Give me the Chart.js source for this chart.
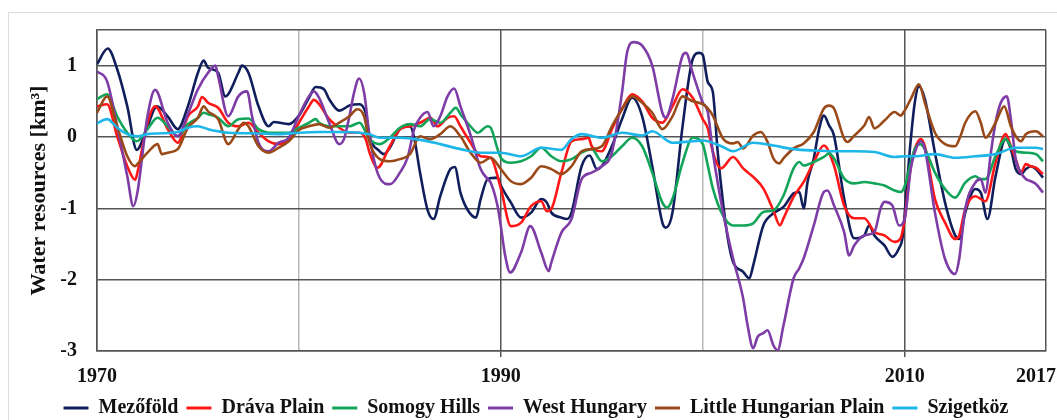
<!DOCTYPE html>
<html>
<head>
<meta charset="utf-8">
<script src="https://cdn.jsdelivr.net/npm/chart.js@4.4.1/dist/chart.umd.min.js"></script>
<style>
  html, body { margin: 0; padding: 0; background: #fff; }
  #wrap { position: relative; width: 1057px; height: 420px; overflow: hidden; }
  #frame { position: absolute; left: 8px; top: 12px; width: 1100px; height: 500px; border: 1px solid #dcdcdc; }
  #chart { position: absolute; left: 0; top: 0; }
</style>
</head>
<body>
<div id="wrap">
  <div id="frame"></div>
  <canvas id="chart" width="1057" height="420"></canvas>
</div>
<script>
// ── Data ─────────────────────────────────────────────────────────
const seriesNames = ['Mezőföld', 'Dráva Plain', 'Somogy Hills', 'West Hungary', 'Little Hungarian Plain', 'Szigetköz'];
const seriesColors = ['#101f5c', '#ff1616', '#12a55a', '#7d3ca6', '#9a4a18', '#1db6e8'];

const xTicks = [1970, 1980, 1990, 2000, 2010, 2017];
const xTickLabels = ['1970', '', '1990', '', '2010', '2017'];
const yTicks = [-3, -2, -1, 0, 1, 1.5];
const yTickLabels = ['-3', '-2', '-1', '0', '1', ''];

const mezofoldYears = [1970.0, 1970.53, 1971.0, 1971.5, 1971.97, 1972.5, 1972.96, 1973.5, 1974.0, 1974.5, 1975.0, 1975.28, 1975.5, 1976.0, 1976.35, 1976.5, 1977.0, 1977.18, 1977.5, 1978.0, 1978.5, 1978.75, 1979.5, 1980.0, 1980.5, 1980.83, 1981.24, 1981.5, 1982.0, 1982.5, 1983.0, 1983.3, 1983.5, 1984.0, 1984.22, 1984.5, 1985.0, 1985.5, 1985.7, 1986.0, 1986.37, 1986.67, 1987.0, 1987.5, 1987.72, 1988.0, 1988.35, 1988.77, 1989.0, 1989.35, 1989.84, 1990.0, 1990.5, 1991.0, 1991.5, 1992.0, 1992.28, 1992.5, 1993.0, 1993.28, 1993.5, 1994.0, 1994.4, 1994.76, 1995.0, 1995.5, 1996.0, 1996.5, 1997.0, 1997.5, 1998.0, 1998.17, 1998.5, 1999.0, 1999.5, 1999.83, 2000.0, 2000.25, 2000.5, 2000.74, 2001.0, 2001.24, 2001.5, 2002.0, 2002.31, 2002.5, 2003.0, 2003.5, 2004.0, 2004.5, 2004.78, 2005.0, 2005.19, 2005.5, 2005.77, 2006.0, 2006.26, 2006.5, 2007.0, 2007.5, 2008.0, 2008.24, 2008.5, 2009.0, 2009.39, 2009.72, 2009.9, 2010.05, 2010.25, 2010.5, 2010.71, 2011.0, 2011.5, 2012.0, 2012.5, 2012.7, 2013.0, 2013.5, 2013.77, 2014.1, 2014.5, 2015.0, 2015.26, 2015.5, 2015.76, 2016.0, 2016.25, 2016.5, 2016.85];
const mezofoldValues = [1.02, 1.24, 0.95, 0.43, -0.18, 0.15, 0.43, 0.29, 0.11, 0.43, 0.9, 1.07, 0.97, 0.9, 0.57, 0.6, 0.9, 1.0, 0.9, 0.43, 0.15, 0.21, 0.18, 0.3, 0.55, 0.7, 0.67, 0.53, 0.37, 0.44, 0.46, 0.34, 0.01, -0.2, -0.24, -0.15, 0.11, 0.15, 0.0, -0.5, -1.02, -1.15, -0.83, -0.45, -0.42, -0.78, -1.02, -1.13, -0.87, -0.59, -0.57, -0.68, -0.92, -1.13, -1.06, -0.87, -0.92, -1.06, -1.13, -1.15, -1.06, -0.41, -0.26, -0.45, -0.41, -0.13, 0.25, 0.55, 0.29, -0.41, -1.2, -1.27, -1.06, 0.15, 1.09, 1.18, 1.15, 0.77, 0.63, -0.21, -0.91, -1.42, -1.75, -1.89, -1.98, -1.8, -1.24, -1.07, -0.98, -0.79, -0.77, -1.0, -0.63, -0.3, 0.12, 0.3, 0.16, 0.02, -0.86, -1.42, -1.38, -1.24, -1.38, -1.52, -1.68, -1.56, -1.4, -0.9, -0.2, 0.48, 0.71, 0.53, -0.22, -0.92, -1.38, -1.43, -1.06, -0.73, -0.78, -1.15, -0.55, -0.03, -0.17, -0.45, -0.52, -0.45, -0.41, -0.45, -0.57];

const dravaYears = [1970.0, 1970.5, 1971.0, 1971.5, 1971.89, 1972.0, 1972.5, 1972.88, 1973.5, 1974.0, 1974.5, 1975.0, 1975.2, 1975.5, 1976.0, 1976.5, 1977.0, 1977.5, 1978.0, 1978.5, 1979.0, 1979.5, 1980.0, 1980.5, 1980.74, 1981.0, 1981.5, 1982.0, 1982.5, 1983.0, 1983.31, 1983.5, 1983.89, 1984.5, 1985.0, 1985.5, 1986.0, 1986.52, 1986.86, 1987.36, 1987.69, 1988.0, 1988.5, 1989.0, 1989.5, 1990.0, 1990.5, 1991.0, 1991.5, 1992.0, 1992.28, 1992.5, 1993.0, 1993.5, 1994.0, 1994.35, 1994.5, 1995.0, 1995.5, 1996.0, 1996.5, 1997.0, 1997.5, 1998.0, 1998.5, 1999.0, 1999.5, 2000.0, 2000.25, 2000.5, 2000.9, 2001.5, 2002.0, 2002.5, 2003.0, 2003.5, 2003.82, 2004.0, 2004.5, 2005.0, 2005.5, 2006.0, 2006.5, 2007.0, 2007.5, 2008.0, 2008.5, 2009.0, 2009.5, 2009.8, 2010.0, 2010.3, 2010.5, 2010.79, 2011.0, 2011.5, 2012.0, 2012.5, 2012.7, 2013.0, 2013.5, 2014.0, 2014.5, 2015.0, 2015.26, 2015.5, 2015.76, 2016.0, 2016.25, 2016.5, 2016.85];
const dravaValues = [0.43, 0.46, 0.01, -0.41, -0.6, -0.5, 0.2, 0.43, 0.11, -0.08, 0.29, 0.43, 0.56, 0.48, 0.41, 0.2, 0.15, 0.2, 0.06, -0.06, -0.1, -0.03, 0.2, 0.43, 0.52, 0.46, 0.25, 0.13, 0.06, 0.06, -0.03, -0.22, -0.43, -0.13, 0.11, 0.15, 0.2, 0.27, 0.15, 0.27, 0.29, 0.15, -0.08, -0.27, -0.29, -0.72, -1.25, -1.2, -0.97, -0.9, -1.04, -1.01, -0.5, -0.06, -0.03, -0.01, -0.13, -0.2, 0.11, 0.39, 0.6, 0.5, 0.27, 0.2, 0.43, 0.67, 0.55, 0.25, 0.12, -0.21, -0.44, -0.28, -0.44, -0.56, -0.72, -1.03, -1.24, -1.14, -0.84, -0.63, -0.35, -0.12, -0.4, -0.96, -1.14, -1.14, -1.33, -1.38, -1.47, -1.42, -1.15, -0.41, -0.17, -0.03, -0.13, -0.87, -1.2, -1.43, -1.38, -1.01, -0.83, -0.9, -0.36, 0.04, -0.13, -0.31, -0.5, -0.38, -0.41, -0.43, -0.52];

const somogyYears = [1970.0, 1970.5, 1971.0, 1971.5, 1971.97, 1972.5, 1973.0, 1973.5, 1974.0, 1974.5, 1975.0, 1975.28, 1975.5, 1976.0, 1976.5, 1977.0, 1977.5, 1978.0, 1978.5, 1979.0, 1979.5, 1980.0, 1980.5, 1980.83, 1981.0, 1981.5, 1982.0, 1982.5, 1983.0, 1983.5, 1984.0, 1984.5, 1985.0, 1985.5, 1986.0, 1986.5, 1987.0, 1987.5, 1987.77, 1988.0, 1988.5, 1988.85, 1989.35, 1989.5, 1989.84, 1990.0, 1990.5, 1991.0, 1991.5, 1992.0, 1992.5, 1993.0, 1993.5, 1994.0, 1994.5, 1995.0, 1995.5, 1996.0, 1996.5, 1997.0, 1997.5, 1998.0, 1998.24, 1998.5, 1999.0, 1999.5, 2000.0, 2000.25, 2000.5, 2001.0, 2001.5, 2002.0, 2002.5, 2003.0, 2003.5, 2004.0, 2004.5, 2004.78, 2005.0, 2005.5, 2006.0, 2006.26, 2006.5, 2007.0, 2007.5, 2008.0, 2008.5, 2009.0, 2009.5, 2009.8, 2010.0, 2010.3, 2010.5, 2010.76, 2011.0, 2011.5, 2012.0, 2012.5, 2013.0, 2013.5, 2013.77, 2014.0, 2014.5, 2015.0, 2015.26, 2015.5, 2016.0, 2016.5, 2016.85];
const somogyValues = [0.53, 0.6, 0.29, 0.06, -0.06, 0.11, 0.27, 0.15, 0.01, 0.18, 0.27, 0.34, 0.32, 0.27, 0.15, 0.25, 0.26, 0.11, 0.06, 0.06, 0.06, 0.13, 0.2, 0.25, 0.2, 0.15, 0.15, 0.15, 0.2, -0.03, -0.1, -0.01, 0.13, 0.18, 0.15, 0.25, 0.2, 0.34, 0.41, 0.32, 0.15, 0.06, 0.15, 0.13, -0.17, -0.29, -0.36, -0.34, -0.27, -0.15, -0.27, -0.34, -0.31, -0.22, -0.17, -0.34, -0.27, -0.13, -0.01, -0.13, -0.5, -0.92, -0.99, -0.87, -0.36, -0.01, -0.1, -0.4, -0.72, -1.1, -1.24, -1.24, -1.21, -1.05, -1.03, -0.82, -0.44, -0.35, -0.4, -0.35, -0.28, -0.23, -0.3, -0.58, -0.65, -0.63, -0.65, -0.68, -0.75, -0.77, -0.69, -0.36, -0.17, -0.1, -0.17, -0.5, -0.73, -0.85, -0.64, -0.55, -0.59, -0.59, -0.27, -0.03, -0.13, -0.2, -0.22, -0.24, -0.34];

const westYears = [1970.0, 1970.5, 1971.0, 1971.5, 1971.8, 1972.0, 1972.5, 1972.88, 1973.5, 1974.0, 1974.5, 1975.0, 1975.5, 1975.86, 1976.0, 1976.5, 1977.0, 1977.43, 1977.68, 1978.0, 1978.5, 1979.0, 1979.5, 1980.0, 1980.5, 1980.74, 1981.0, 1981.5, 1982.0, 1982.23, 1982.5, 1982.73, 1982.98, 1983.23, 1983.5, 1983.89, 1984.38, 1984.52, 1985.0, 1985.38, 1985.71, 1986.0, 1986.37, 1986.67, 1987.0, 1987.36, 1987.69, 1988.0, 1988.52, 1989.0, 1989.35, 1989.5, 1989.84, 1990.0, 1990.22, 1990.46, 1991.0, 1991.46, 1992.0, 1992.37, 1992.5, 1993.0, 1993.5, 1994.0, 1994.5, 1995.0, 1995.5, 1996.0, 1996.25, 1996.58, 1997.0, 1997.5, 1998.0, 1998.17, 1998.5, 1999.0, 1999.17, 1999.5, 2000.0, 2000.25, 2000.5, 2001.0, 2001.5, 2002.0, 2002.22, 2002.5, 2002.72, 2003.0, 2003.21, 2003.5, 2003.71, 2004.0, 2004.5, 2004.78, 2005.0, 2005.5, 2006.0, 2006.18, 2006.5, 2007.0, 2007.25, 2007.5, 2008.0, 2008.5, 2008.81, 2009.0, 2009.39, 2009.72, 2010.0, 2010.3, 2010.5, 2010.79, 2011.0, 2011.5, 2012.0, 2012.5, 2012.7, 2013.0, 2013.5, 2013.77, 2014.0, 2014.27, 2014.5, 2014.76, 2015.06, 2015.26, 2015.5, 2015.76, 2016.0, 2016.25, 2016.5, 2016.85];
const westValues = [0.92, 0.78, 0.15, -0.55, -0.97, -0.78, 0.29, 0.66, 0.2, 0.01, 0.32, 0.67, 0.9, 1.0, 0.85, 0.29, 0.57, 0.64, 0.29, -0.08, -0.2, -0.08, -0.01, 0.3, 0.57, 0.64, 0.55, 0.2, -0.1, -0.03, 0.29, 0.62, 0.82, 0.62, 0.01, -0.5, -0.66, -0.66, -0.5, -0.29, 0.11, 0.27, 0.35, 0.15, 0.29, 0.57, 0.68, 0.43, 0.01, -0.45, -0.59, -0.64, -0.97, -1.25, -1.67, -1.9, -1.62, -1.25, -1.62, -1.88, -1.76, -1.34, -1.15, -0.59, -0.5, -0.41, -0.22, 0.62, 1.18, 1.33, 1.28, 1.0, 0.34, 0.27, 0.53, 1.14, 1.18, 0.9, 0.48, 0.35, -0.21, -1.05, -1.7, -2.26, -2.64, -2.96, -2.8, -2.75, -2.71, -2.92, -2.99, -2.64, -1.98, -1.84, -1.7, -1.24, -0.77, -0.75, -0.96, -1.33, -1.66, -1.52, -1.38, -1.33, -1.0, -0.91, -0.96, -1.24, -1.15, -0.45, -0.22, -0.06, -0.17, -1.06, -1.71, -1.92, -1.71, -1.01, -0.64, -0.59, -0.78, -0.22, 0.2, 0.48, 0.57, 0.25, -0.31, -0.5, -0.59, -0.62, -0.66, -0.78];

const littleYears = [1970.0, 1970.5, 1971.0, 1971.5, 1971.89, 1972.0, 1972.5, 1973.0, 1973.21, 1973.5, 1974.0, 1974.5, 1975.0, 1975.28, 1975.5, 1976.0, 1976.5, 1977.0, 1977.26, 1977.5, 1978.0, 1978.5, 1979.0, 1979.5, 1980.0, 1980.5, 1981.0, 1981.5, 1982.0, 1982.5, 1982.89, 1983.23, 1983.5, 1984.0, 1984.5, 1985.0, 1985.5, 1986.0, 1986.5, 1987.0, 1987.5, 1988.0, 1988.5, 1989.0, 1989.5, 1990.0, 1990.5, 1991.0, 1991.5, 1992.0, 1992.5, 1993.0, 1993.5, 1994.0, 1994.5, 1995.0, 1995.5, 1996.0, 1996.5, 1997.0, 1997.5, 1998.0, 1998.5, 1999.0, 1999.5, 2000.0, 2000.25, 2000.5, 2001.0, 2001.5, 2001.73, 2002.0, 2002.5, 2002.88, 2003.21, 2003.5, 2003.79, 2004.0, 2004.5, 2005.0, 2005.5, 2006.0, 2006.26, 2006.5, 2007.0, 2007.17, 2007.5, 2008.0, 2008.24, 2008.5, 2009.0, 2009.5, 2009.8, 2010.0, 2010.3, 2010.71, 2011.0, 2011.5, 2012.0, 2012.5, 2012.76, 2013.0, 2013.5, 2013.77, 2014.0, 2014.5, 2014.93, 2015.26, 2015.5, 2015.76, 2016.0, 2016.5, 2016.85];
const littleValues = [0.34, 0.57, 0.15, -0.27, -0.41, -0.38, -0.22, -0.1, -0.24, -0.22, -0.17, 0.13, 0.27, 0.43, 0.36, 0.25, -0.1, 0.11, 0.2, 0.15, -0.13, -0.22, -0.15, -0.06, 0.1, 0.15, 0.18, 0.13, 0.2, 0.29, 0.39, 0.29, -0.08, -0.31, -0.34, -0.31, -0.24, 0.01, -0.03, 0.04, 0.15, 0.01, -0.22, -0.36, -0.29, -0.45, -0.62, -0.66, -0.57, -0.41, -0.45, -0.52, -0.41, -0.2, -0.17, -0.13, 0.15, 0.39, 0.57, 0.48, 0.34, 0.11, 0.29, 0.57, 0.5, 0.46, 0.4, 0.3, -0.02, -0.09, -0.07, -0.16, 0.02, 0.07, -0.07, -0.3, -0.37, -0.3, -0.16, -0.09, 0.07, 0.4, 0.44, 0.4, -0.02, -0.07, 0.02, 0.16, 0.28, 0.12, 0.23, 0.35, 0.3, 0.37, 0.53, 0.74, 0.48, 0.06, -0.1, -0.13, 0.01, 0.2, 0.36, 0.2, -0.01, 0.2, 0.43, 0.15, 0.01, -0.06, 0.04, 0.08, 0.01];

const szigetkozYears = [1970.0, 1970.5, 1971.0, 1971.5, 1972.0, 1972.5, 1973.0, 1974.0, 1974.5, 1975.0, 1975.5, 1976.0, 1976.5, 1978.0, 1979.0, 1980.0, 1981.0, 1982.0, 1983.0, 1983.5, 1984.0, 1985.0, 1986.0, 1987.0, 1988.0, 1989.0, 1990.0, 1991.0, 1992.0, 1993.0, 1993.5, 1994.0, 1995.0, 1996.0, 1997.0, 1997.5, 1998.5, 1999.5, 2000.0, 2001.0, 2001.5, 2002.5, 2003.5, 2004.5, 2005.5, 2006.5, 2007.5, 2008.5, 2009.5, 2010.0, 2010.5, 2011.5, 2012.5, 2013.5, 2014.5, 2015.5, 2016.5, 2016.85];
const szigetkozValues = [0.19, 0.25, 0.13, 0.04, 0.01, 0.04, 0.05, 0.07, 0.13, 0.15, 0.11, 0.08, 0.06, 0.05, 0.04, 0.06, 0.07, 0.07, 0.06, 0.04, -0.01, -0.01, -0.04, -0.1, -0.17, -0.22, -0.22, -0.27, -0.15, -0.18, -0.03, 0.04, -0.01, 0.06, 0.02, 0.08, -0.08, -0.06, -0.05, -0.14, -0.2, -0.08, -0.12, -0.17, -0.19, -0.2, -0.2, -0.21, -0.28, -0.27, -0.27, -0.24, -0.29, -0.27, -0.24, -0.15, -0.15, -0.17];

const seriesYears = [mezofoldYears, dravaYears, somogyYears, westYears, littleYears, szigetkozYears];
const seriesValues = [mezofoldValues, dravaValues, somogyValues, westValues, littleValues, szigetkozValues];

// ── Chart ───────────────────────────────────────────────────────
const FONT = '"Liberation Serif", "Times New Roman", serif';
const DARK = '#555555';
const LIGHT = '#b8b8b8';

const datasets = seriesNames.map((name, i) => ({
  label: name,
  data: seriesYears[i].map((yr, k) => ({ x: yr, y: seriesValues[i][k] })),
  borderColor: seriesColors[i],
  backgroundColor: seriesColors[i],
  borderWidth: 2.6,
  pointRadius: 0,
  cubicInterpolationMode: 'monotone',
  order: seriesNames.length - i   // later series drawn on top, like the original
}));

new Chart(document.getElementById('chart'), {
  type: 'line',
  data: { datasets },
  options: {
    responsive: false,
    animation: false,
    layout: { padding: { left: 26, right: 11, top: 30, bottom: 0 } },
    plugins: {
      tooltip: { enabled: false },
      legend: {
        position: 'bottom',
        maxHeight: 30,
        labels: {
          color: '#111',
          font: { family: FONT, size: 20, weight: 'bold' },
          boxWidth: 25,
          boxHeight: 3,
          padding: 8,
          sort: (a, b) => a.datasetIndex - b.datasetIndex,
          generateLabels: (chart) =>
            Chart.defaults.plugins.legend.labels.generateLabels(chart)
              .map(l => ({ ...l, lineWidth: 0, fillStyle: l.strokeStyle }))
        }
      }
    },
    scales: {
      x: {
        type: 'linear',
        min: 1970,
        max: 2017,
        afterBuildTicks: (s) => { s.ticks = xTicks.map(v => ({ value: v })); },
        afterFit: (s) => { s.height = 39; s.paddingLeft = 0; s.paddingRight = 0; },
        ticks: {
          autoSkip: false,
          maxRotation: 0,
          padding: 8,
          color: '#111',
          font: { family: FONT, size: 20, weight: 'bold' },
          // trailing spaces pull the last label back inside the frame
          callback: (v) => {
            const lbl = xTickLabels[xTicks.indexOf(v)] || '';
            return v === 2017 ? lbl + '\u00a0\u00a0\u00a0\u00a0' : lbl;
          }
        },
        grid: {
          color: (c) => (c.tick && (c.tick.value === 1980 || c.tick.value === 2000)) ? LIGHT : DARK,
          tickColor: (c) => (c.tick && (c.tick.value === 1990 || c.tick.value === 2010)) ? DARK : 'rgba(0,0,0,0)',
          tickLength: 6,
          lineWidth: 1.5
        },
        border: { color: DARK, width: 1.5 }
      },
      y: {
        min: -3,
        max: 1.5,
        afterBuildTicks: (s) => { s.ticks = yTicks.map(v => ({ value: v })); },
        afterFit: (s) => { s.width = 71; s.paddingTop = 0; s.paddingBottom = 0; },
        ticks: {
          padding: 20,
          color: '#111',
          font: { family: FONT, size: 20, weight: 'bold' },
          callback: (v) => yTickLabels[yTicks.indexOf(v)] ?? ''
        },
        grid: { color: DARK, lineWidth: 1.5, drawTicks: false },
        border: { color: DARK, width: 1.5 },
        title: {
          display: true,
          text: 'Water resources [km³]',
          color: '#111',
          font: { family: FONT, size: 22, weight: 'bold' },
          padding: { top: 0, bottom: 0 }
        }
      }
    }
  }
});
</script>
</body>
</html>
